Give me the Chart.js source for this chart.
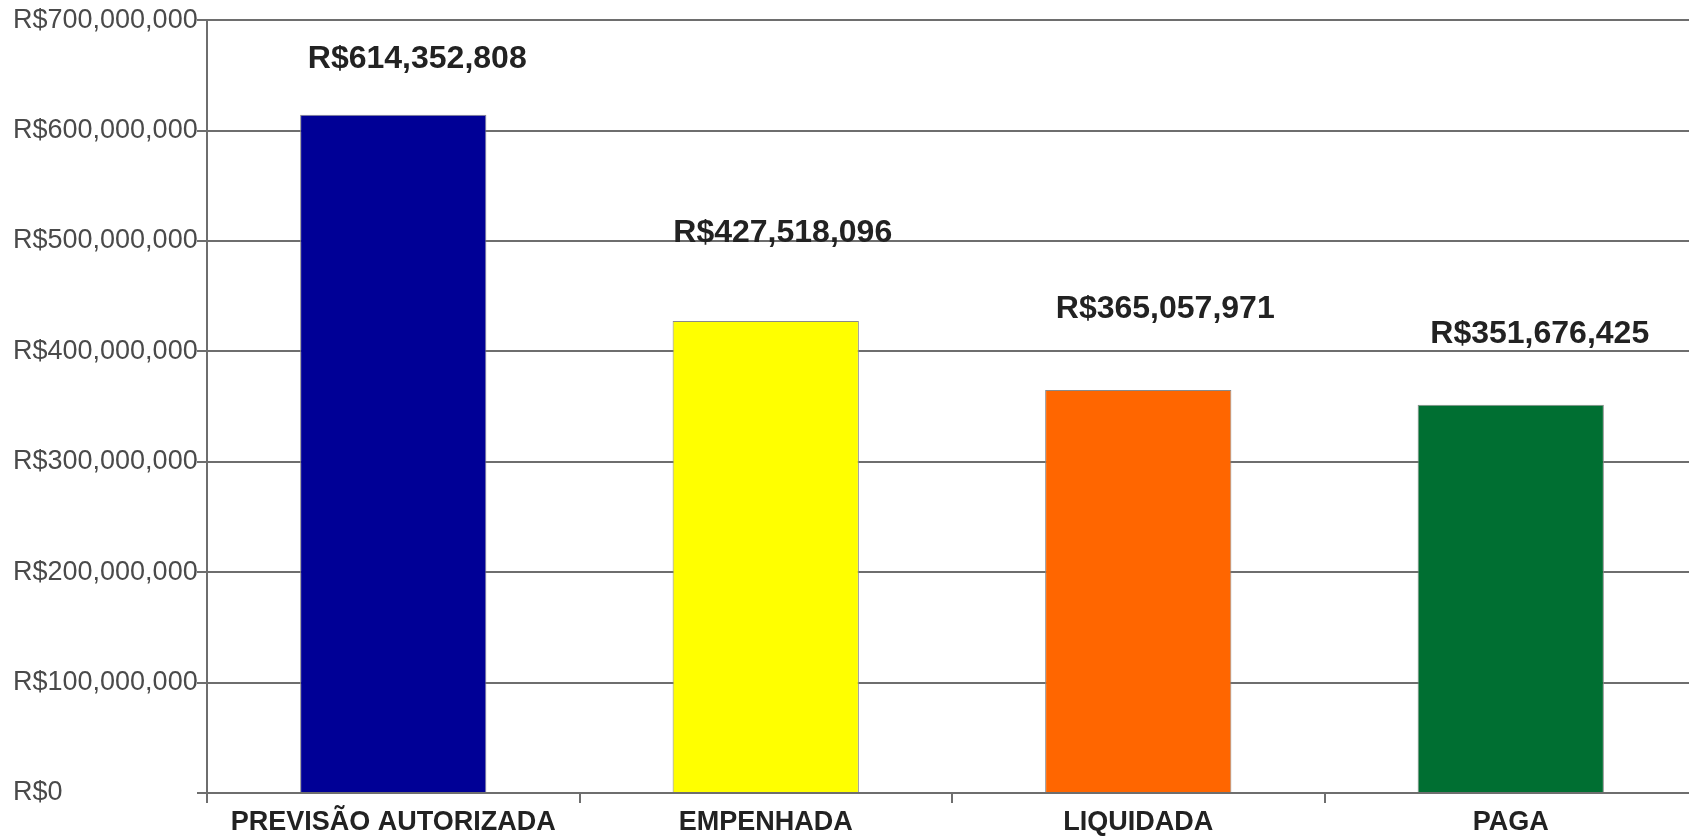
<!DOCTYPE html>
<html>
<head>
<meta charset="utf-8">
<script src="https://cdn.jsdelivr.net/npm/chart.js@4.4.1/dist/chart.umd.min.js"></script>
<style>
  html, body { margin: 0; padding: 0; background: #fff; overflow: hidden; }
  #wrap { width: 1689px; height: 836px; overflow: hidden; }
</style>
</head>
<body>
<div id="wrap"><canvas id="chart" width="1697" height="836"></canvas></div>
<script>
// categories and values (R$)
const categories = ["PREVISÃO AUTORIZADA", "EMPENHADA", "LIQUIDADA", "PAGA"];
const values = [614352808, 427518096, 365057971, 351676425];
const barColors = ["#000096", "#FFFF00", "#FF6600", "#006F32"];
const yTicks = [0, 100000000, 200000000, 300000000, 400000000, 500000000, 600000000, 700000000];

const fmt = (v) => "R$" + v.toLocaleString("en-US");
const fontFamily = "'Liberation Sans', Arial, sans-serif";

// value labels sit a bit right of and above each bar (like the original)
const labelShift = { dx: [24, 17, 27, 29], dy: [47, 79, 72, 62] };

const valueLabels = {
  id: "valueLabels",
  afterDatasetsDraw(chart) {
    const ctx = chart.ctx;
    const meta = chart.getDatasetMeta(0);
    ctx.save();
    ctx.font = "bold 32px " + fontFamily;
    ctx.fillStyle = "#222";
    ctx.textAlign = "center";
    ctx.textBaseline = "alphabetic";
    meta.data.forEach((bar, i) => {
      ctx.fillText(fmt(values[i]), bar.x + labelShift.dx[i], bar.y - labelShift.dy[i]);
    });
    ctx.restore();
  },
};

new Chart(document.getElementById("chart"), {
  type: "bar",
  plugins: [valueLabels],
  data: {
    labels: categories,
    datasets: [
      {
        data: values,
        backgroundColor: barColors,
        borderColor: "#8a8a8a",
        borderWidth: 1,
        categoryPercentage: 1,
        barPercentage: 0.5,
      },
    ],
  },
  options: {
    responsive: false,
    animation: false,
    layout: { padding: { top: 20, right: 0, left: 13, bottom: 0 } },
    plugins: { legend: { display: false }, tooltip: { enabled: false } },
    scales: {
      x: {
        grid: { offset: true, drawOnChartArea: false, drawTicks: true, tickLength: 10, color: "#6e6e6e", lineWidth: 2 },
        border: { color: "#6e6e6e", width: 2 },
        ticks: { padding: 3, color: "#222", font: { family: fontFamily, size: 27, weight: "bold" } },
        afterFit(scale) { scale.height = 43; },
      },
      y: {
        min: 0,
        max: 700000000,
        afterBuildTicks(scale) { scale.ticks = yTicks.map((v) => ({ value: v })); },
        grid: { color: "#6e6e6e", lineWidth: 2, tickLength: 10 },
        border: { color: "#6e6e6e", width: 2 },
        ticks: { padding: 4, crossAlign: "far", color: "#4a4a4a", font: { family: fontFamily, size: 27 }, callback: (v) => fmt(v) },
        afterFit(scale) { scale.width = 194; },
      },
    },
  },
});
</script>
</body>
</html>
